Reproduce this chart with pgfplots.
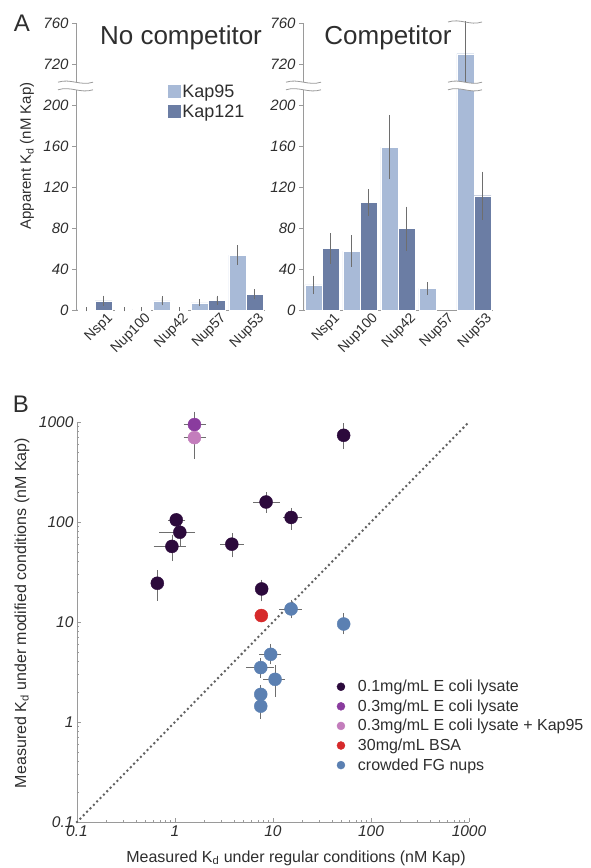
\documentclass[border=0pt]{standalone}
\usepackage{fontspec}
\setmainfont{Liberation Sans}
\usepackage{pgfplots}
\pgfplotsset{compat=1.18}
\definecolor{kapA}{HTML}{A8BAD7}
\definecolor{kapB}{HTML}{6B7DA4}
\definecolor{axgray}{HTML}{9A9A9A}
\definecolor{errgray}{HTML}{6E6E6E}
\definecolor{txtgray}{HTML}{2E2E2E}
\definecolor{cA}{HTML}{2C0A3C}
\definecolor{cB}{HTML}{8A3C9E}
\definecolor{cC}{HTML}{C37DBC}
\definecolor{cD}{HTML}{D62A2B}
\definecolor{cE}{HTML}{5B80B2}
\pgfplotsset{
  Astyle/.style={
    scale only axis, width=189pt, height=287pt,
    xmin=-0.5, xmax=4.5, ymin=0, ymax=280,
    axis x line*=bottom, axis y line*=left,
    axis line style={draw=axgray, line width=0.8pt},
    ytick={0,40,...,280}, yticklabels={0,40,80,120,160,200,720,760},
    xtick={0,...,4}, xticklabels={Nsp1,Nup100,Nup42,Nup57,Nup53},
    tick align=outside, major tick length=4pt,
    tick style={draw=axgray, line width=0.8pt},
    every major x tick/.style={draw=none},
    extra x ticks={-0.5,0.5,1.5,2.5,3.5,4.5},
    extra x tick labels={},
    every extra x tick/.style={draw=axgray, line width=0.8pt},
    y tick label style={font=\itshape\fontsize{15}{15}\selectfont, text=txtgray},
    x tick label style={font=\fontsize{14}{14}\selectfont, text=txtgray, rotate=45, anchor=north east, xshift=13pt, yshift=-3pt},
    clip=false,
  },
  barS/.style={ybar, bar width=17pt, bar shift=0pt, draw=white, line width=0.4pt, forget plot,
    error bars/y dir=both, error bars/y explicit,
    error bars/error bar style={errgray, line width=0.6pt},
    error bars/error mark options={errgray, mark size=1.5pt, line width=0.6pt}},
  dotS/.style={only marks, mark=*, mark size=6.5pt, forget plot,
    error bars/x dir=both, error bars/x explicit, error bars/y dir=both, error bars/y explicit,
    error bars/error bar style={errgray, line width=0.6pt},
    error bars/error mark options={errgray, mark size=2.5pt, line width=0.6pt}},
}
\newcommand\brk[4]{% x0, x1, y(center), gap   (used inside a scope with x=1pt,y=1pt)
  \pgfmathsetmacro\xa{#1+0.35*(#2-#1)}\pgfmathsetmacro\xb{#1+0.65*(#2-#1)}%
  \pgfmathsetmacro\yu{#3+#4}\pgfmathsetmacro\yl{#3-#4}%
  \pgfmathsetmacro\yuu{\yu+4}\pgfmathsetmacro\yud{\yu-4}%
  \pgfmathsetmacro\ylu{\yl+4}\pgfmathsetmacro\yld{\yl-4}%
  \fill[white] (#1,\yu) .. controls (\xa,\yuu) and (\xb,\yud) .. (#2,\yu)
     -- (#2,\yl) .. controls (\xb,\yld) and (\xa,\ylu) .. (#1,\yl) -- cycle;
  \draw[axgray, line width=0.8pt] (#1,\yu) .. controls (\xa,\yuu) and (\xb,\yud) .. (#2,\yu);
  \draw[axgray, line width=0.8pt] (#1,\yl) .. controls (\xa,\ylu) and (\xb,\yld) .. (#2,\yl);
}
\begin{document}
\begin{tikzpicture}
\useasboundingbox (0pt,0pt) rectangle (591pt,868pt);
% ---------------- Panel A, no competitor ----------------
\begin{axis}[Astyle, at={(76pt,558pt)}, anchor=south west,
  legend style={at={(0.47,0.80)}, anchor=north west, draw=none, fill=none,
    font=\fontsize{18}{20}\selectfont, text=txtgray, row sep=2pt},
  legend cell align=left]
\addlegendimage{legend image code/.code={\fill[kapA] (0pt,-6pt) rectangle (12pt,6pt);}}
\addlegendentry{Kap95}
\addlegendimage{legend image code/.code={\fill[kapB] (0pt,-6pt) rectangle (12pt,6pt);}}
\addlegendentry{Kap121}
\addplot[barS, fill=kapA] table[x expr=\thisrow{c}-0.23, y=v, y error=e] {
c v e
0 0.5 0.5
1 0.5 0.5
2 9 3
3 7 2
4 53.5 8
};
\addplot[barS, fill=kapB] table[x expr=\thisrow{c}+0.23, y=v, y error=e] {
c v e
0 9 3.5
1 0.5 0.5
2 0.8 0.5
3 9.5 3
4 15.5 3.5
};
\end{axis}
% ---------------- Panel A, competitor ----------------
% values above the axis break are plotted 480 lower (730 -> 250)
\begin{axis}[Astyle, at={(303pt,558pt)}, anchor=south west, width=190pt]
\addplot[barS, fill=kapA] table[x expr=\thisrow{c}-0.23, y=v, y error=e] {
c v e
0 24.5 7.5
1 57.5 14
2 159 30
3 21 4.5
4 250 30
};
\addplot[barS, fill=kapB] table[x expr=\thisrow{c}+0.23, y=v, y error=e] {
c v e
0 60 13.5
1 105 11.5
2 79.5 20
4 111.5 22
};
\end{axis}
% ---------------- Panel B ----------------
\begin{axis}[at={(77pt,46pt)}, anchor=south west, scale only axis, width=392pt, height=400pt,
  xmode=log, ymode=log, xmin=0.1, xmax=1000, ymin=0.1, ymax=1000,
  axis x line*=bottom, axis y line*=left,
  axis line style={draw=axgray, line width=0.8pt},
  tick align=inside, major tick length=4pt, minor tick length=2.5pt,
  tick style={draw=axgray, line width=0.6pt},
  xtick={0.1,1,10,100,1000}, xticklabels={0.1,1,10,100,1000},
  ytick={0.1,1,10,100,1000}, yticklabels={0.1,1,10,100,1000},
  tick label style={font=\itshape\fontsize{15.5}{16}\selectfont, text=txtgray},
  clip=false,
  legend style={at={(0.655,0.365)}, anchor=north west, draw=none, fill=none,
    font=\fontsize{16}{17}\selectfont, text=txtgray, row sep=2.5pt,
    /tikz/every odd column/.append style={column sep=11pt}},
  legend cell align=left]
\addlegendimage{only marks, mark=*, mark size=4pt, mark options={fill=cA, draw=cA}}
\addlegendentry{0.1mg/mL E coli lysate}
\addlegendimage{only marks, mark=*, mark size=4pt, mark options={fill=cB, draw=cB}}
\addlegendentry{0.3mg/mL E coli lysate}
\addlegendimage{only marks, mark=*, mark size=4pt, mark options={fill=cC, draw=cC}}
\addlegendentry{0.3mg/mL E coli lysate + Kap95}
\addlegendimage{only marks, mark=*, mark size=4pt, mark options={fill=cD, draw=cD}}
\addlegendentry{30mg/mL BSA}
\addlegendimage{only marks, mark=*, mark size=4pt, mark options={fill=cE, draw=cE}}
\addlegendentry{crowded FG nups}
\addplot[forget plot, draw=black!62, line width=2.8pt, line cap=round, dash pattern=on 0pt off 4.8pt]
  coordinates {(0.1,0.1) (1000,1000)};
\addplot[dotS, mark options={fill=cA, draw=cA}] table[x=x, y=y, x error minus=xm, x error plus=xp, y error minus=ym, y error plus=yp] {
x y xm xp ym yp
52.6 736 4 4 169 176
8.5 158.5 1.85 2.57 27.5 29.5
15.3 111 1.8 3.2 22 20
1.03 105 0.12 0.17 10 10
1.12 79 0.39 0.39 18 12
0.93 57 0.29 0.29 14 13
3.8 60 0.73 0.93 13 13
0.66 24.4 0.03 0.03 7.1 6.6
7.66 21.4 0.3 0.3 4.4 3.6
};
\addplot[dotS, mark options={fill=cB, draw=cB}] table[x=x, y=y, x error minus=xm, x error plus=xp, y error minus=ym, y error plus=yp] {
x y xm xp ym yp
1.58 942 0.28 0.38 100 258
};
\addplot[dotS, mark options={fill=cC, draw=cC}] table[x=x, y=y, x error minus=xm, x error plus=xp, y error minus=ym, y error plus=yp] {
x y xm xp ym yp
1.58 698 0.28 0.38 244 100
};
\addplot[dotS, mark options={fill=cD, draw=cD}] table[x=x, y=y, x error minus=xm, x error plus=xp, y error minus=ym, y error plus=yp] {
x y xm xp ym yp
7.6 11.6 0.2 0.2 0.4 0.4
};
\addplot[dotS, mark options={fill=cE, draw=cE}] table[x=x, y=y, x error minus=xm, x error plus=xp, y error minus=ym, y error plus=yp] {
x y xm xp ym yp
15.3 13.5 3.0 3.2 2.0 2.3
52.6 9.55 4 4 1.6 2.0
9.47 4.75 1.8 2.0 0.75 0.95
7.5 3.5 1.9 2.2 0.57 0.6
10.5 2.67 2.1 2.0 0.77 0.83
7.5 1.89 0.6 0.6 0.29 0.31
7.5 1.44 0.6 0.6 0.3 0.26
};
\end{axis}
\begin{scope}[x=1pt,y=1pt]
% axis breaks
\brk{58}{93}{782}{3.8}
\brk{286}{321}{782}{3.8}
\brk{448}{482}{782}{3.8}
\draw[axgray, line width=0.8pt] (448,846) .. controls (460,850) and (470,842) .. (482,846);
% titles and labels
\node[font=\fontsize{26}{28}\selectfont, text=txtgray] at (181,830) {No competitor};
\node[font=\fontsize{26}{28}\selectfont, text=txtgray] at (388,830) {Competitor};
\node[font=\fontsize{24}{26}\selectfont, text=txtgray] at (22,845) {A};
\node[font=\fontsize{24}{26}\selectfont, text=txtgray] at (21,464) {B};
\node[rotate=90, font=\fontsize{15}{16}\selectfont, text=txtgray] at (27,712) {Apparent K\textsubscript{d} (nM Kap)};
\node[rotate=90, font=\fontsize{16}{17}\selectfont, text=txtgray] at (22,255) {Measured K\textsubscript{d} under modified conditions (nM Kap)};
\node[font=\fontsize{16}{17}\selectfont, text=txtgray] at (296,10) {Measured K\textsubscript{d} under regular conditions (nM Kap)};
\end{scope}
\end{tikzpicture}
\end{document}
